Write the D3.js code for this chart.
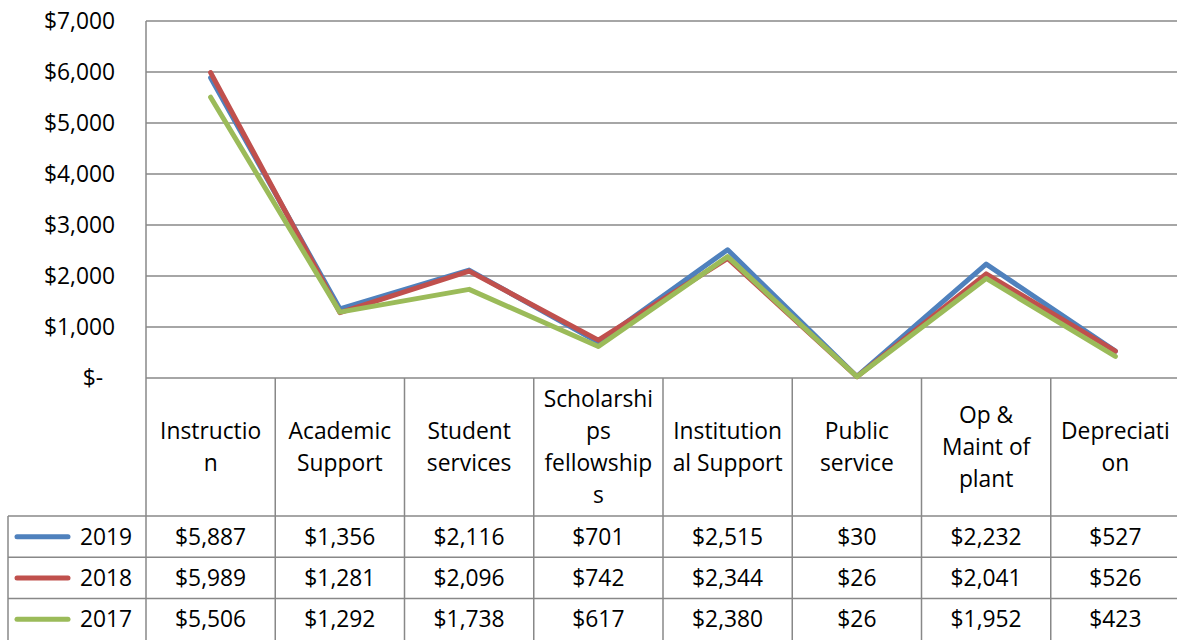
<!DOCTYPE html>
<html><head><meta charset="utf-8">
<script src="https://cdn.jsdelivr.net/npm/d3@7/dist/d3.min.js"></script>
<style>body{margin:0;background:#fff}svg{display:block}text{font-family:"Open Sans","Noto Sans",sans-serif;fill:#000}</style>
</head><body>
<script>
const categories = [["Instructio","n"],["Academic","Support"],["Student","services"],["Scholarshi","ps","fellowship","s"],["Institution","al Support"],["Public","service"],["Op &","Maint of","plant"],["Depreciati","on"]];
const years = ["2019","2018","2017"];
const v2019 = [5887,1356,2116,701,2515,30,2232,527];
const v2018 = [5989,1281,2096,742,2344,26,2041,526];
const v2017 = [5506,1292,1738,617,2380,26,1952,423];
const colors = ["#4F81BD","#C0504D","#9BBB59"];
const yTicks = [0,1000,2000,3000,4000,5000,6000,7000];
const series = [v2019,v2018,v2017];

const W=1177,H=640, FS=22.8;
const svg=d3.select("body").append("svg").attr("width",W).attr("height",H);
const pL=146,pR=1180,pT=21,pB=378;
const x=d3.scaleBand().domain(d3.range(categories.length)).range([pL,pR]);
const y=d3.scaleLinear().domain([0,7000]).range([pB,pT]);
const grid="#888888";
const fmt=d3.format(",");

// gridlines
svg.append("g").selectAll("line").data(yTicks).join("line")
 .attr("x1",pL).attr("x2",W).attr("y1",d=>y(d)).attr("y2",d=>y(d))
 .attr("stroke",grid).attr("stroke-width",1.5);
// y labels
svg.append("g").selectAll("text").data(yTicks).join("text")
 .attr("x",d=>d===0?103:115).attr("y",d=>y(d)).attr("dy","0.36em").attr("text-anchor","end")
 .attr("font-size",FS).text(d=>d===0?"$-":"$"+fmt(d));
// left axis
svg.append("line").attr("x1",pL).attr("x2",pL).attr("y1",pT).attr("y2",H).attr("stroke",grid).attr("stroke-width",1.5);

// table geometry
const hdrBot=516, rowH=41.3, tblLeft=8;
const bounds=d3.range(categories.length+1).map(i=>i<categories.length?x(i):pR);
svg.append("g").selectAll("line").data(bounds.slice(1)).join("line")
 .attr("x1",d=>d).attr("x2",d=>d).attr("y1",pB).attr("y2",H)
 .attr("stroke",grid).attr("stroke-width",1.5);
const hl=[hdrBot,hdrBot+rowH,hdrBot+2*rowH];
svg.append("g").selectAll("line").data(hl).join("line")
 .attr("x1",tblLeft).attr("x2",W).attr("y1",d=>d).attr("y2",d=>d)
 .attr("stroke",grid).attr("stroke-width",1.5);
svg.append("line").attr("x1",tblLeft).attr("x2",tblLeft).attr("y1",hdrBot).attr("y2",H).attr("stroke",grid).attr("stroke-width",1.5);

// header text
const lh=32;
categories.forEach((lines,i)=>{
  const cx=x(i)+x.bandwidth()/2, cy=(pB+hdrBot)/2;
  const t=svg.append("text").attr("text-anchor","middle").attr("font-size",FS);
  lines.forEach((s,j)=>{
    t.append("tspan").attr("x",cx).attr("y",cy+(j-(lines.length-1)/2)*lh).attr("dy","0.36em").text(s);
  });
});

// data rows
series.forEach((vals,r)=>{
  const cy=hdrBot+rowH*r+rowH/2;
  svg.append("line").attr("x1",17).attr("x2",68).attr("y1",cy).attr("y2",cy)
   .attr("stroke",colors[r]).attr("stroke-width",5).attr("stroke-linecap","round");
  svg.append("text").attr("x",106).attr("y",cy).attr("dy","0.36em").attr("text-anchor","middle").attr("font-size",FS).text(years[r]);
  svg.append("g").selectAll("text").data(vals).join("text")
   .attr("x",(d,i)=>x(i)+x.bandwidth()/2).attr("y",cy).attr("dy","0.36em").attr("text-anchor","middle")
   .attr("font-size",FS).text(d=>"$"+fmt(d));
});

// lines
const line=d3.line().x((d,i)=>x(i)+x.bandwidth()/2).y(d=>y(d));
series.forEach((vals,r)=>{
  svg.append("path").datum(vals).attr("d",line).attr("fill","none")
   .attr("stroke",colors[r]).attr("stroke-width",5).attr("stroke-linecap","round").attr("stroke-linejoin","round");
});
</script>
</body></html>
